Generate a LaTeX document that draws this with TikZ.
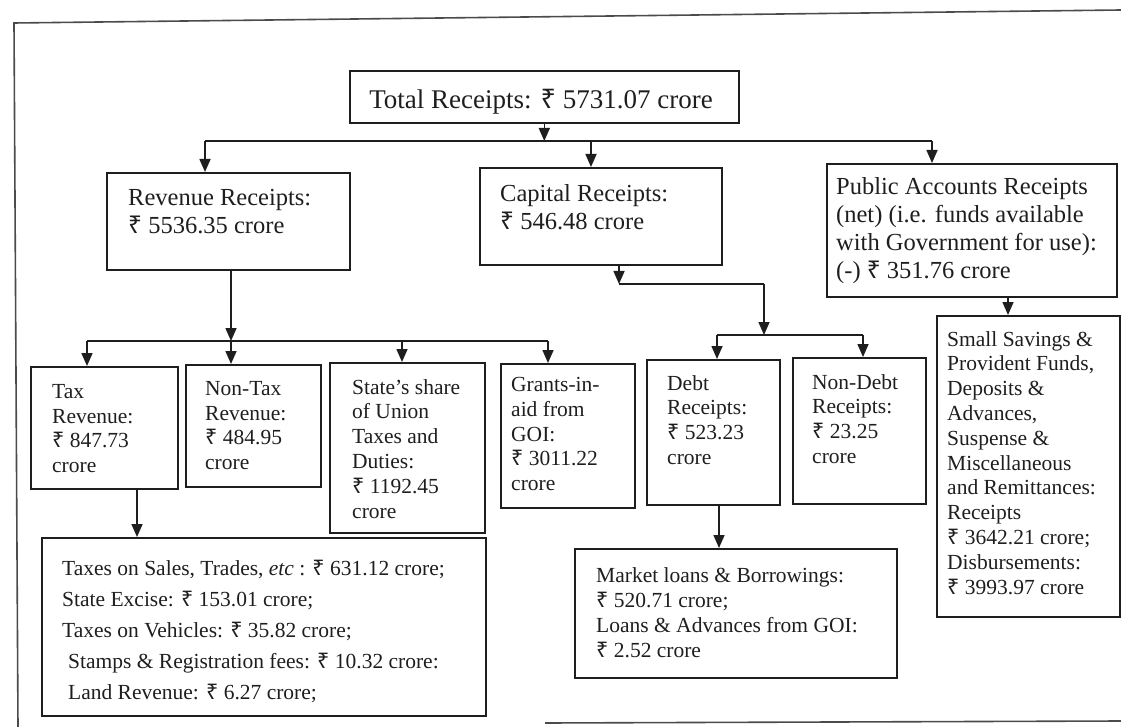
\documentclass[tikz,border=0pt]{standalone}
\usepackage{fontspec}
\setmainfont{Liberation Serif}
\newfontfamily\rupeefont{Noto Sans}
\newcommand{\Rs}{{\rupeefont ₹}\ }
\usetikzlibrary{arrows.meta}
\definecolor{ink}{HTML}{1E1E1E}

\begin{document}
\begin{tikzpicture}[x=1pt,y=-1pt,
  box/.style={draw=ink,line width=1.6pt,rectangle,inner sep=0pt,anchor=north west},
  big/.style={font=\fontsize{24.5}{28}\selectfont,text=ink,align=left,inner sep=0pt,anchor=north west},
  small/.style={font=\fontsize{21.5}{24.8}\selectfont,text=ink,align=left,inner sep=0pt,anchor=north west},
  arr/.style={draw=ink,line width=1.6pt,-{Triangle[length=13pt,width=11pt]}},
  link/.style={draw=ink,line width=1.6pt}]
\useasboundingbox (0,0) rectangle (1121,727);
% frame
\draw[ink!80,line width=1.6pt] (1121,10) -- (14,23) -- (18,727);
\draw[ink!80,line width=1.6pt] (545,723) -- (1121,721);
% top level
\node[box,minimum width=389pt,minimum height=52pt] (total) at (349,70) {};
\node[font=\fontsize{27}{30}\selectfont,text=ink,inner sep=0pt,anchor=base] (totalT) at (541,109) {Total Receipts: \Rs 5731.07 crore};
\node[box,minimum width=243pt,minimum height=97pt] (rev) at (106,172) {};
\node[big] (revT) at (128,189) {Revenue Receipts:\\\Rs 5536.35 crore};
\node[box,minimum width=242pt,minimum height=97pt] (cap) at (479,167) {};
\node[big] (capT) at (500,184) {Capital Receipts:\\\Rs 546.48 crore};
\node[box,minimum width=290pt,minimum height=133pt] (pub) at (826,163) {};
\node[big] (pubT) at (836,177) {Public Accounts Receipts\\(net) (i.e. funds available\\with Government for use):\\(-) \Rs 351.76 crore};
% revenue parts
\node[box,minimum width=147pt,minimum height=122pt] (tax) at (30,366) {};
\node[small] (taxT) at (52,384) {Tax\\Revenue:\\\Rs 847.73\\crore};
\node[box,minimum width=135pt,minimum height=122pt] (ntax) at (185,364) {};
\node[small] (ntaxT) at (205,381) {Non-Tax\\Revenue:\\\Rs 484.95\\crore};
\node[box,minimum width=155pt,minimum height=170pt] (state) at (329,362) {};
\node[small] (stateT) at (352,379) {State’s share\\of Union\\Taxes and\\Duties:\\\Rs 1192.45\\crore};
\node[box,minimum width=134pt,minimum height=144pt] (grants) at (500,363) {};
\node[small] (grantsT) at (511,377) {Grants-in-\\aid from\\GOI:\\\Rs 3011.22\\crore};
% capital parts
\node[box,minimum width=133pt,minimum height=145pt] (debt) at (646,359) {};
\node[small] (debtT) at (667,375) {Debt\\Receipts:\\\Rs 523.23\\crore};
\node[box,minimum width=133pt,minimum height=146pt] (ndebt) at (792,357) {};
\node[small] (ndebtT) at (812,374) {Non-Debt\\Receipts:\\\Rs 23.25\\crore};
% public accounts parts
\node[box,minimum width=183pt,minimum height=301pt] (sub) at (936,315) {};
\node[small] (subT) at (947,331) {Small Savings \&\\Provident Funds,\\Deposits \&\\Advances,\\Suspense \&\\Miscellaneous\\and Remittances:\\Receipts\\\Rs 3642.21 crore;\\Disbursements:\\\Rs 3993.97 crore};
% bottom boxes
\node[box,minimum width=444pt,minimum height=178pt] (taxes) at (41,537) {};
\node[small,font=\fontsize{21.5}{31}\selectfont] (taxesT) at (62,560) {Taxes on Sales, Trades, \textit{etc} : \Rs 631.12 crore;\\State Excise: \Rs 153.01 crore;\\Taxes on Vehicles: \Rs 35.82 crore;\\\hspace*{6pt}Stamps \& Registration fees: \Rs 10.32 crore:\\\hspace*{6pt}Land Revenue: \Rs 6.27 crore;};
\node[box,minimum width=322pt,minimum height=129pt] (market) at (574,548) {};
\node[small,font=\fontsize{21.5}{25}\selectfont] (marketT) at (596,567) {Market loans \& Borrowings:\\\Rs 520.71 crore;\\Loans \& Advances from GOI:\\\Rs 2.52 crore};
% connectors, first split
\coordinate (b1l) at (205,141);
\coordinate (b1c) at (591,141);
\coordinate (b1r) at (932,141);
\draw[arr] (total.south) -- (total.south |- b1l);
\draw[link] (b1l) -- (b1r);
\draw[arr] (b1l) -- (b1l |- rev.north);
\draw[arr] (b1c) -- (b1c |- cap.north);
\draw[arr] (b1r) -- (b1r |- pub.north);
% revenue split
\coordinate (b2l) at (87,341);
\coordinate (b2m) at (231,341);
\coordinate (b2s) at (402,341);
\coordinate (b2r) at (548,341);
\draw[arr] (rev.south -| b2m) -- (b2m);
\draw[link] (b2l) -- (b2r);
\draw[arr] (b2l) -- (b2l |- tax.north);
\draw[arr] (b2m) -- (b2m |- ntax.north);
\draw[arr] (b2s) -- (b2s |- state.north);
\draw[arr] (b2r) -- (b2r |- grants.north);
% capital split
\coordinate (c1) at (619,284);
\coordinate (c2) at (764,284);
\coordinate (b3l) at (717,335);
\coordinate (b3r) at (863,335);
\draw[arr] (cap.south -| c1) -- (c1);
\draw[link] (c1) -- (c2);
\draw[arr] (c2) -- (c2 |- b3l);
\draw[link] (b3l) -- (b3r);
\draw[arr] (b3l) -- (b3l |- debt.north);
\draw[arr] (b3r) -- (b3r |- ndebt.north);
% down to details
\coordinate (t1) at (137,488);
\draw[arr] (t1) -- (t1 |- taxes.north);
\coordinate (d1) at (719,504);
\draw[arr] (d1) -- (d1 |- market.north);
\coordinate (p1) at (1008,296);
\draw[arr] (p1) -- (p1 |- sub.north);
\end{tikzpicture}
\end{document}
